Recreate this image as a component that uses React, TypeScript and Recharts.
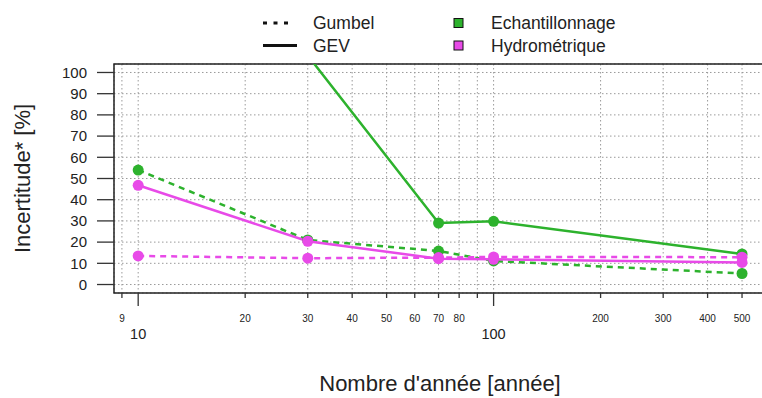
import React from "react";
import {
  LineChart,
  Line,
  XAxis,
  YAxis,
  CartesianGrid,
  ReferenceArea,
} from "recharts";

const FONT = "'Liberation Sans', Arial, sans-serif";
const GREEN = "#2db22d";
const MAGENTA = "#e84ae8";
const INK = "#222";

// years of record (x, log scale)
const years = [10, 30, 70, 100, 500];
// uncertainty [%] per series
const gevEchantillonnage = [null, 108, 29, 29.8, 14.4];
const gumbelEchantillonnage = [54, 21, 15.8, 11.1, 5.2];
const gevHydrometrique = [46.8, 20.4, 12.2, 11.9, 10.4];
const gumbelHydrometrique = [13.5, 12.4, 12.7, 13, 12.9];

const xTicks = [9, 10, 20, 30, 40, 50, 60, 70, 80, 90, 100, 200, 300, 400, 500];
const xMajor = [10, 100];
const xMinorLabels = [9, 20, 30, 40, 50, 60, 70, 80, 200, 300, 400, 500];
const yTicks = [0, 10, 20, 30, 40, 50, 60, 70, 80, 90, 100];

const X_DOMAIN: [number, number] = [8.55, 584];
const Y_DOMAIN: [number, number] = [-4, 104];

const data = years.map((n, i) => ({
  n,
  gevEch: gevEchantillonnage[i],
  gumEch: gumbelEchantillonnage[i],
  gevHyd: gevHydrometrique[i],
  gumHyd: gumbelHydrometrique[i],
}));

const XTick = (props: any) => {
  const { x, y, payload } = props;
  const v = payload.value;
  const major = xMajor.includes(v);
  return (
    <g>
      <line
        x1={x}
        x2={x}
        y1={y}
        y2={y + (major ? 13 : 5)}
        stroke="#333"
        strokeWidth={1.3}
      />
      {major ? (
        <text x={x} y={y + 46} textAnchor="middle" fontSize={14.5} fill={INK} fontFamily={FONT}>
          {v}
        </text>
      ) : xMinorLabels.includes(v) ? (
        <text x={x} y={y + 29} textAnchor="middle" fontSize={10} fill={INK} fontFamily={FONT}>
          {v}
        </text>
      ) : null}
    </g>
  );
};

const dotFor = (color: string) => ({ r: 5.5, fill: color, stroke: "none" });

function LegendOverlay() {
  const row1 = 23;
  const row2 = 45.5;
  const txt = { fontSize: 17.5, fill: INK, fontFamily: FONT } as const;
  return (
    <svg
      width={762}
      height={60}
      style={{ position: "absolute", left: 0, top: 0, pointerEvents: "none" }}
    >
      <line x1={263} x2={288} y1={row1} y2={row1} stroke="#111" strokeWidth={3} strokeDasharray="4 6.5" />
      <text x={313} y={row1} dominantBaseline="central" {...txt}>Gumbel</text>
      <line x1={263} x2={297} y1={row2} y2={row2} stroke="#111" strokeWidth={3} />
      <text x={313} y={row2} dominantBaseline="central" {...txt}>GEV</text>
      <rect x={454} y={row1 - 4.5} width={9} height={9} fill={GREEN} stroke="#111" strokeWidth={1} />
      <text x={491} y={row1} dominantBaseline="central" {...txt}>Echantillonnage</text>
      <rect x={454} y={row2 - 4.5} width={9} height={9} fill={MAGENTA} stroke="#111" strokeWidth={1} />
      <text x={491} y={row2} dominantBaseline="central" {...txt}>Hydrométrique</text>
    </svg>
  );
}

export default function App() {
  return (
    <div
      style={{
        position: "absolute",
        left: 0,
        top: 0,
        width: 762,
        height: 398,
        overflow: "hidden",
        background: "#fff",
      }}
    >
      <LineChart
        width={770}
        height={398}
        data={data}
        margin={{ top: 64, right: 4, bottom: 0, left: 0 }}
        style={{ fontFamily: FONT }}
      >
        <CartesianGrid stroke="#9a9a9a" strokeDasharray="1.5 2.5" />
        <XAxis
          dataKey="n"
          type="number"
          scale="log"
          domain={X_DOMAIN}
          allowDataOverflow
          ticks={xTicks}
          interval={0}
          height={105}
          tickSize={0}
          tickMargin={0}
          tickLine={false}
          axisLine={false}
          tick={<XTick />}
          label={{
            value: "Nombre d'année [année]",
            position: "insideBottom",
            offset: 7,
            style: { fontSize: 22, fill: INK, fontFamily: FONT },
          }}
        />
        <YAxis
          type="number"
          domain={Y_DOMAIN}
          allowDataOverflow
          ticks={yTicks}
          interval={0}
          width={114}
          tickSize={17}
          tickMargin={10}
          axisLine={false}
          tickLine={{ stroke: "#333", strokeWidth: 1.3 }}
          tick={{ fontSize: 15, fill: INK, fontFamily: FONT }}
          label={{
            value: "Incertitude* [%]",
            angle: -90,
            position: "insideLeft",
            offset: 22,
            style: { fontSize: 22, fill: INK, fontFamily: FONT, textAnchor: "middle" },
          }}
        />
        <ReferenceArea
          x1={X_DOMAIN[0]}
          x2={X_DOMAIN[1]}
          y1={Y_DOMAIN[0]}
          y2={Y_DOMAIN[1]}
          fill="none"
          stroke="#222"
          strokeWidth={1.5}
          ifOverflow="visible"
        />
        <Line
          dataKey="gevEch"
          stroke={GREEN}
          strokeWidth={2.5}
          dot={dotFor(GREEN)}
          activeDot={false}
          isAnimationActive={false}
        />
        <Line
          dataKey="gumEch"
          stroke={GREEN}
          strokeWidth={2.5}
          strokeDasharray="6 5"
          dot={dotFor(GREEN)}
          activeDot={false}
          isAnimationActive={false}
        />
        <Line
          dataKey="gevHyd"
          stroke={MAGENTA}
          strokeWidth={2.5}
          dot={dotFor(MAGENTA)}
          activeDot={false}
          isAnimationActive={false}
        />
        <Line
          dataKey="gumHyd"
          stroke={MAGENTA}
          strokeWidth={2.5}
          strokeDasharray="6 5"
          dot={dotFor(MAGENTA)}
          activeDot={false}
          isAnimationActive={false}
        />
      </LineChart>
      <LegendOverlay />
    </div>
  );
}
